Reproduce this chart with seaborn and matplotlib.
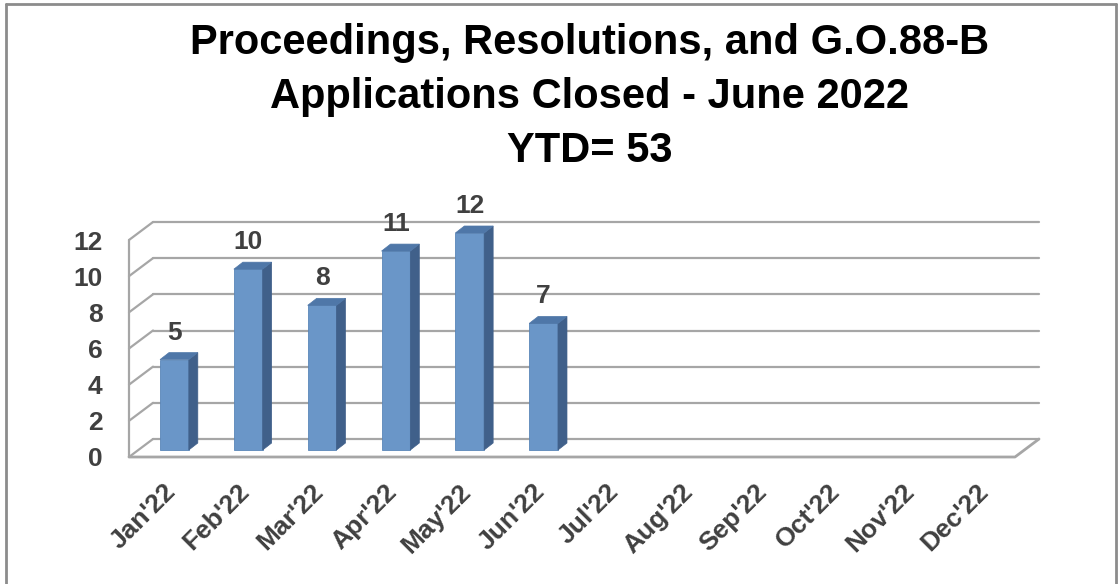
import numpy as np
import pandas as pd
import seaborn as sns
import matplotlib.pyplot as plt
from matplotlib.patches import Polygon
from matplotlib.lines import Line2D
from matplotlib.transforms import offset_copy

# data
months = ["Jan'22", "Feb'22", "Mar'22", "Apr'22", "May'22", "Jun'22",
          "Jul'22", "Aug'22", "Sep'22", "Oct'22", "Nov'22", "Dec'22"]
closed = [5, 10, 8, 11, 12, 7]
yticks = [0, 2, 4, 6, 8, 10, 12]
title = "Proceedings, Resolutions, and G.O.88-B\nApplications Closed - June 2022\nYTD= 53"

vals = closed + [np.nan] * (len(months) - len(closed))
df = pd.DataFrame({"month": months, "closed": vals})

sns.set_style("white")
plt.rcParams['font.family'] = ['Liberation Sans', 'DejaVu Sans']

W, H = 1119, 584
fig = plt.figure(figsize=(W / 100, H / 100), dpi=100)
ax = fig.add_axes([129 / W, (H - 457) / H, (1015 - 129) / W, (457 - 240) / H])

front_c = "#6A96C8"
side_c = "#40608A"
top_c = "#4F77A8"
grid_c = "#A6A6A6"
txt_c = "#404040"

sns.barplot(data=df, x="month", y="closed", order=months, width=0.39,
            color=front_c, saturation=1, errorbar=None, ax=ax)
ax.set_xlim(-0.5, 11.5)
ax.set_ylim(0, 12)
for s in ax.spines.values():
    s.set_visible(False)
ax.set_xlabel("")
ax.set_ylabel("")

# pixel size of one data unit
bb = ax.get_window_extent()
pxx = bb.width / 12
pxy = bb.height / 12

# back wall / left wall / floor
back = offset_copy(ax.transData, fig=fig, x=24, y=18, units='dots')
ddx, ddy = 24 / pxx, 18 / pxy
for v in yticks:
    ax.plot([-0.5, 11.5], [v, v], transform=back, color=grid_c, lw=1.6,
            clip_on=False, zorder=0)
    ax.plot([-0.5, -0.5 + ddx], [v, v + ddy], color=grid_c, lw=1.6,
            clip_on=False, zorder=0)
ax.plot([-0.5, -0.5], [0, 12], color=grid_c, lw=1.6, clip_on=False, zorder=0)
ax.plot([-0.5, 11.5, 11.5 + ddx], [0, 0, ddy], color=grid_c, lw=2,
        clip_on=False, zorder=0)

# 3D look for the bars
shift = offset_copy(ax.transData, fig=fig, x=8.5, y=7, units='dots')
bdx, bdy = 9 / pxx, 7 / pxy
for p in ax.patches:
    h = p.get_height()
    if not np.isfinite(h) or h == 0:
        continue
    p.set_transform(shift)
    p.set_clip_on(False)
    p.set_edgecolor("#5A86B8")
    p.set_linewidth(0.6)
    p.set_zorder(3)
    x0 = p.get_x()
    x1 = x0 + p.get_width()
    ax.add_patch(Polygon([(x1, 0), (x1 + bdx, bdy), (x1 + bdx, h + bdy), (x1, h)],
                         closed=True, facecolor=side_c, edgecolor=side_c, lw=0.5,
                         transform=shift, clip_on=False, zorder=3))
    ax.add_patch(Polygon([(x0, h), (x1, h), (x1 + bdx, h + bdy), (x0 + bdx, h + bdy)],
                         closed=True, facecolor=top_c, edgecolor=top_c, lw=0.5,
                         transform=shift, clip_on=False, zorder=3))
    ax.annotate(f"{int(h)}", xy=(x0 + p.get_width() / 2, h), xycoords=shift,
                xytext=(0, 27), textcoords='offset pixels', ha='center', va='center',
                fontsize=19, fontweight='bold', color=txt_c)

# axis labels
ax.set_yticks(yticks)
ax.set_yticklabels([str(v) for v in yticks], fontsize=19, fontweight='bold', color=txt_c)
ax.tick_params(axis='y', length=0, pad=19)
ax.tick_params(axis='x', length=0)
ax.set_xticks([])
lab = offset_copy(ax.transData, fig=fig, x=6, y=-31, units='dots')
for i, m in enumerate(months):
    ax.text(i, 0, m, transform=lab, rotation=45, rotation_mode='anchor',
            ha='right', va='center', fontsize=19, fontweight='bold', color=txt_c)

fig.text(590 / W, 1 - 97 / H, title, ha='center', va='center', fontsize=30,
         fontweight='bold', color='black', linespacing=1.45)

# chart frame
fc = "#8C8C8C"
fig.add_artist(Line2D([6 / W, 6 / W], [0, 1 - 4 / H], color=fc, lw=2))
fig.add_artist(Line2D([6 / W, 1116 / W], [1 - 4 / H, 1 - 4 / H], color=fc, lw=2))
fig.add_artist(Line2D([1116 / W, 1116 / W], [0, 1 - 4 / H], color=fc, lw=2))

fig.savefig("out.png", dpi=100)
